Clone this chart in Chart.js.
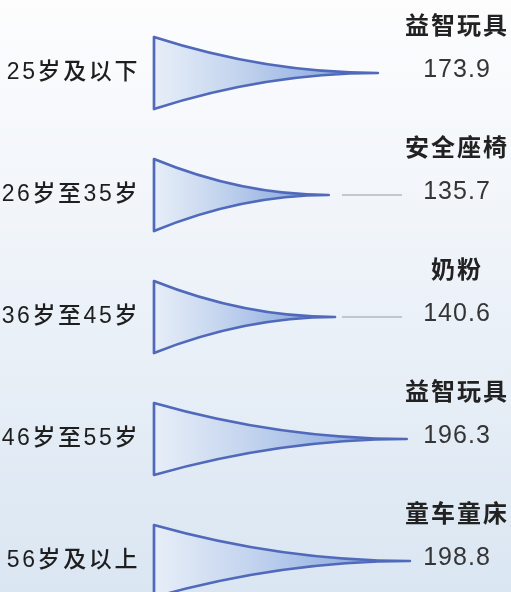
<!DOCTYPE html>
<html>
<head>
<meta charset="utf-8">
<script src="https://cdn.jsdelivr.net/npm/chart.js@4"></script>
<style>
  html, body { margin: 0; padding: 0; overflow: hidden; }
  body { width: 511px; height: 592px; background: linear-gradient(#fdfdfe 0%, #eef3f9 45%, #dae6f2 100%); }
  canvas { display: block; }
</style>
</head>
<body>
<canvas id="chart" width="511" height="622" style="width:511px;height:622px"></canvas>
<script>
// age groups, most-bought category per group, and the index values
const ageGroups = ['25岁及以下', '26岁至35岁', '36岁至45岁', '46岁至55岁', '56岁及以上'];
const topCategory = ['益智玩具', '安全座椅', '奶粉', '益智玩具', '童车童床'];
const values = [173.9, 135.7, 140.6, 196.3, 198.8];

const FONT = '"Liberation Sans", "Noto Sans CJK SC", sans-serif';

// draws every bar as a tapering horn, plus the labels on the right
const hornPlugin = {
  id: 'horns',
  beforeDraw(chart) {
    chart.ctx.letterSpacing = '2.6px';
  },
  afterDatasetsDraw(chart) {
    const ctx = chart.ctx;
    const meta = chart.getDatasetMeta(0);
    const labelX = chart.chartArea.right - 52;
    meta.data.forEach((bar, i) => {
      const x0 = bar.base, x1 = bar.x, yc = bar.y, h = bar.height / 2;
      const xm = (x0 + x1) / 2;
      ctx.save();
      ctx.beginPath();
      ctx.moveTo(x0, yc - h);
      ctx.quadraticCurveTo(xm, yc, x1, yc);
      ctx.quadraticCurveTo(xm, yc, x0, yc + h);
      ctx.closePath();
      const g = ctx.createLinearGradient(x0, 0, x1, 0);
      g.addColorStop(0, '#e7eef8');
      g.addColorStop(0.35, '#c6d6ef');
      g.addColorStop(0.65, '#a2bbe5');
      g.addColorStop(1, '#7f9dd6');
      ctx.fillStyle = g;
      ctx.fill();
      ctx.lineWidth = 2.7;
      ctx.lineJoin = 'round';
      ctx.strokeStyle = '#5069ba';
      ctx.stroke();

      // grey leader line for the shorter horns
      if (values[i] < 160) {
        ctx.beginPath();
        ctx.moveTo(342, yc);
        ctx.lineTo(402, yc);
        ctx.lineWidth = 1.5;
        ctx.strokeStyle = '#b4b8bd';
        ctx.stroke();
      }

      ctx.textAlign = 'center';
      ctx.textBaseline = 'middle';
      ctx.letterSpacing = '2px';
      ctx.fillStyle = '#222';
      ctx.font = 'bold 24px ' + FONT;
      ctx.fillText(topCategory[i], labelX + 1, yc - 46);
      ctx.letterSpacing = '1px';
      ctx.fillStyle = '#353535';
      ctx.font = '25px ' + FONT;
      ctx.fillText(values[i].toFixed(1), labelX + 1, yc - 3);
      ctx.restore();
    });
  }
};

new Chart(document.getElementById('chart'), {
  type: 'bar',
  data: {
    labels: ageGroups,
    datasets: [{
      data: values,
      backgroundColor: 'rgba(0,0,0,0)',
      borderWidth: 0,
      categoryPercentage: 1,
      barPercentage: 0.59
    }]
  },
  options: {
    indexAxis: 'y',
    responsive: false,
    animation: false,
    devicePixelRatio: 1,
    layout: { padding: { top: 12, right: 3, bottom: 0, left: 0 } },
    plugins: { legend: { display: false }, tooltip: { enabled: false } },
    scales: {
      x: { display: false, min: 0, max: 275 },
      y: {
        grid: { display: false, drawTicks: false },
        border: { display: false },
        ticks: {
          color: '#1e1e1e',
          padding: 14,
          font: { family: FONT, size: 23, weight: '500' }
        },
        afterFit(scale) {
          scale.width = 154;
          scale.paddingTop = 0;
          scale.paddingBottom = 0;
        }
      }
    }
  },
  plugins: [hornPlugin]
});
</script>
</body>
</html>
